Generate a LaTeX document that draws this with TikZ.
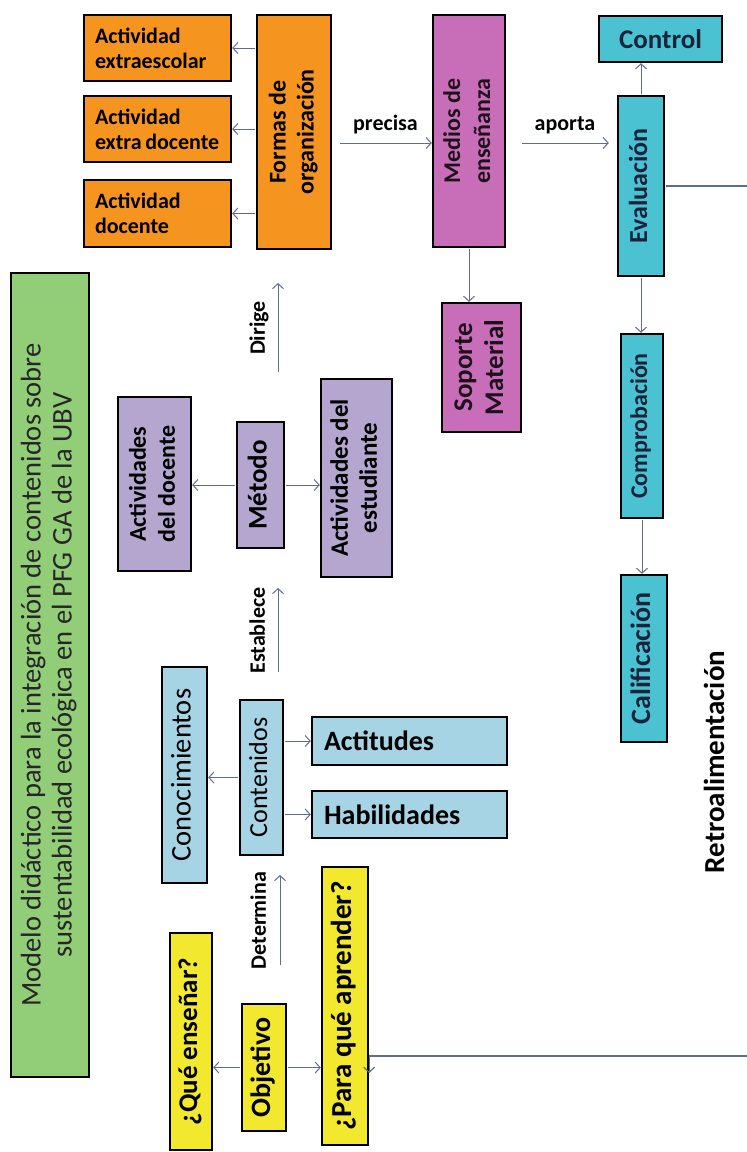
\documentclass[tikz,border=0pt]{standalone}
\usepackage{fontspec}
\setmainfont{Carlito}
\usepackage{graphicx}
\usetikzlibrary{arrows.meta,calc}

\definecolor{naranja}{RGB}{246,148,32}
\definecolor{rosa}{RGB}{200,110,185}
\definecolor{lila}{RGB}{180,166,206}
\definecolor{celeste}{RGB}{166,212,228}
\definecolor{turquesa}{RGB}{74,194,210}
\definecolor{amarillo}{RGB}{242,232,45}
\definecolor{verde}{RGB}{146,206,120}
\definecolor{flecha}{RGB}{95,108,140}
\definecolor{tinta}{RGB}{25,35,60}

\newcommand{\fsz}[2]{\fontsize{#1}{#2}\selectfont}
\newcommand{\vtxt}[1]{\rotatebox{90}{\begin{tabular}{@{}c@{}}#1\end{tabular}}}

\tikzset{
	caja/.style={draw=black, line width=2.4pt, inner sep=0pt},
	tam/.style 2 args={minimum width=#1, minimum height=#2},
	conn/.style={draw=flecha, line width=1pt, shorten <=1pt, -{Straight Barb[length=5pt,width=11pt]}},
	etiq/.style={inner sep=1pt, font=\fsz{22}{24}\bfseries}
}

\begin{document}
\begin{tikzpicture}[x=1pt, y=-1pt]
			%%%%% START %%%%%
			
			\fill[white] (0,0) rectangle (747,1152);
			\useasboundingbox (0,0) rectangle (747,1152);
			
			% formas de organizacion
			\node[caja, fill=naranja, tam={147}{66}, text width=125pt, align=left, font=\fsz{22}{25}\bfseries] (extraesc) at (157.5,48) {Actividad\\extraescolar};
			\node[caja, fill=naranja, tam={147}{66}, text width=125pt, align=left, font=\fsz{22}{25}\bfseries] (extradoc) at (157.5,129) {Actividad\\extra\,docente};
			\node[caja, fill=naranja, tam={147}{67}, text width=125pt, align=left, font=\fsz{22}{25}\bfseries] (actdoc) at (157.5,213.5) {Actividad\\docente};
			\node[caja, fill=naranja, tam={74}{234}, font=\fsz{24}{28}\bfseries] (formas) at (294,132) {\vtxt{Formas de\\organización}};
			
			% medios
			\node[caja, fill=rosa, tam={72}{232}, font=\fsz{24}{30}\bfseries, text=black!85!rosa] (medios) at (469,131) {\vtxt{Medios de\\enseñanza}};
			\node[caja, fill=rosa, tam={79}{129}, font=\fsz{27}{31}\bfseries, text=black!85!rosa] (soporte) at (481.5,367.5) {\vtxt{Soporte\\Material}};
			
			% evaluacion
			\node[caja, fill=turquesa, tam={123}{46}, font=\fsz{27}{30}\bfseries, text=tinta] (control) at (660.5,39) {Control};
			\node[caja, fill=turquesa, tam={46}{180}, font=\fsz{26}{30}\bfseries, text=tinta] (evaluacion) at (641,186) {\vtxt{Evaluación}};
			\node[caja, fill=turquesa, tam={42}{184}, font=\fsz{24}{26}\bfseries, text=tinta] (comprob) at (642,426) {\vtxt{Comprobación}};
			\node[caja, fill=turquesa, tam={46}{167}, font=\fsz{28}{30}\bfseries, text=tinta] (calif) at (644,658.5) {\vtxt{Calificación}};
			
			% titulo
			\node[caja, fill=verde, tam={78}{804}, font=\fsz{28.5}{31}, text=black!85] (titulo) at (50,675) {\vtxt{Modelo didáctico para la integración de contenidos sobre\\sustentabilidad ecológica en el PFG GA de la UBV}};
			
			% metodo
			\node[caja, fill=lila, tam={73}{174}, font=\fsz{24}{29}\bfseries] (actdocente) at (154.5,484) {\vtxt{Actividades\\del docente}};
			\node[caja, fill=lila, tam={47}{126}, font=\fsz{27}{30}\bfseries] (metodo) at (260.5,485) {\vtxt{Método}};
			\node[caja, fill=lila, tam={71}{198}, font=\fsz{25}{29}\bfseries] (actest) at (356.5,478) {\vtxt{Actividades del\\estudiante}};
			
			% contenidos
			\node[caja, fill=celeste, tam={45}{216}, font=\fsz{28.5}{30}] (conoc) at (184.5,775) {\vtxt{Conocimientos}};
			\node[caja, fill=celeste, tam={43}{155}, font=\fsz{26}{28}] (conten) at (261.5,777.5) {\vtxt{Contenidos}};
			\node[caja, fill=celeste, tam={195}{48}, text width=171pt, align=left, font=\fsz{28}{30}\bfseries] (actitudes) at (409.5,741) {Actitudes};
			\node[caja, fill=celeste, tam={195}{47}, text width=171pt, align=left, font=\fsz{28}{30}\bfseries] (habilid) at (409.5,814.5) {Habilidades};
			
			% objetivo
			\node[caja, fill=amarillo, tam={42}{217}, font=\fsz{27}{30}\bfseries] (que) at (191,1041.5) {\vtxt{¿Qué enseñar?}};
			\node[caja, fill=amarillo, tam={44}{127}, font=\fsz{28}{30}\bfseries] (objetivo) at (264,1067.5) {\vtxt{Objetivo}};
			\node[caja, fill=amarillo, tam={46}{278}, font=\fsz{29}{31}\bfseries] (para) at (345,1006) {\vtxt{¿Para qué aprender?}};
			
			\node[font=\fsz{29}{30}\bfseries] (retro) at (718,762) {\vtxt{Retroalimentación}};
			
			% flechas sueltas
			\coordinate (dirigeA) at (278,373);
			\coordinate (dirigeB) at (278,283);
			\coordinate (estabA) at (278,673);
			\coordinate (estabB) at (278,588);
			\coordinate (determA) at (280,966);
			\coordinate (determB) at (280,875);
			\draw[conn] (dirigeA) -- (dirigeB) node[midway, etiq, xshift=-18pt] {\vtxt{Dirige}};
			\draw[conn] (estabA) -- (estabB) node[midway, etiq, xshift=-18pt] {\vtxt{Establece}};
			\draw[conn] (determA) -- (determB) node[midway, etiq, xshift=-19pt] {\vtxt{Determina}};
			
			\draw[conn] (formas.west |- extraesc.east) -- (extraesc.east);
			\draw[conn] (formas.west |- extradoc.east) -- (extradoc.east);
			\draw[conn] (formas.west |- actdoc.east) -- (actdoc.east);
			\draw[conn] ($(formas.east)+(7pt,-11pt)$) -- ($(medios.west)+(0pt,-12pt)$) node[midway, etiq, above=8pt] {precisa};
			\draw[conn] ($(medios.east)+(15pt,-12pt)$) -- ($(evaluacion.west |- medios.east)+(-8pt,-12pt)$) node[midway, etiq, above=8pt] {aporta};
			\draw[conn] (medios.south) -- (medios.south |- soporte.north);
			\draw[conn] (evaluacion.north) -- (evaluacion.north |- control.south);
			\draw[conn] (evaluacion.south) -- (evaluacion.south |- comprob.north);
			\draw[conn] (comprob.south) -- (comprob.south |- calif.north);
			
			\draw[conn] (metodo.west) -- (metodo.west -| actdocente.east);
			\draw[conn] (metodo.east) -- (metodo.east -| actest.west);
			\draw[conn] (conten.west) -- (conten.west -| conoc.east);
			\draw[conn] (conten.east |- actitudes.west) -- (actitudes.west);
			\draw[conn] (conten.east |- habilid.west) -- (habilid.west);
			\draw[conn] (objetivo.west) -- (objetivo.west -| que.east);
			\draw[conn] (objetivo.east) -- (objetivo.east -| para.west);
			
			% retroalimentacion
			\coordinate (retroA) at (749,186);
			\coordinate (retroB) at (749,1056);
			\draw[conn, line width=1.2pt] (evaluacion.east) -- (retroA) -- (retroB) -- (para.east |- retroB) -- ++(0pt,-17pt);
			
			%%%%% END %%%%%
\end{tikzpicture}
\end{document}
